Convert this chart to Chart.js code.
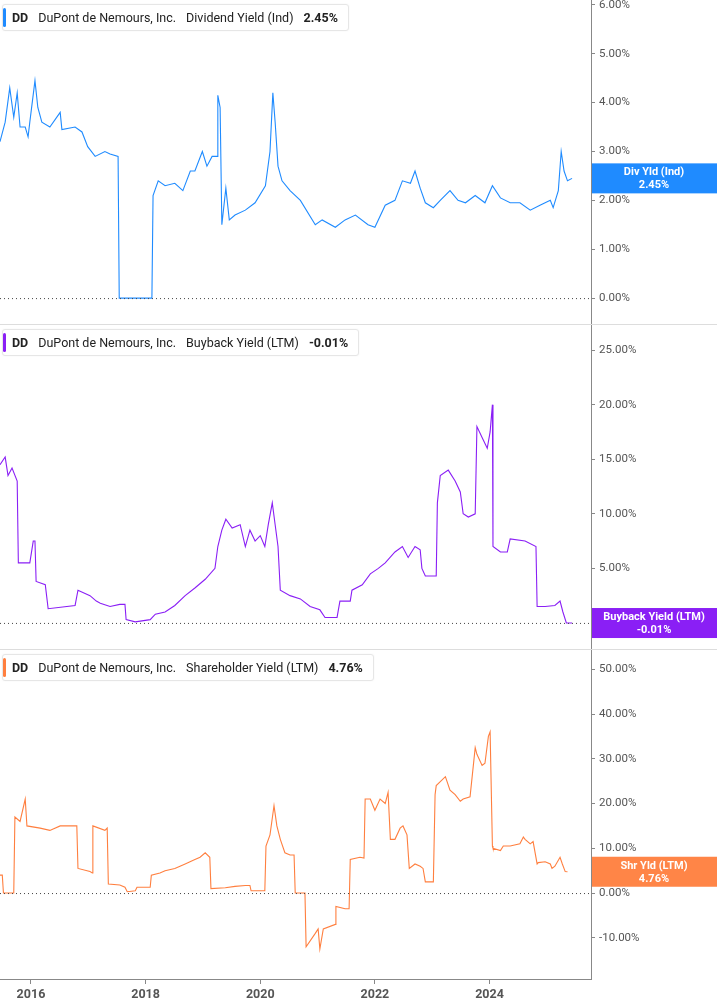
<!DOCTYPE html>
<html><head><meta charset="utf-8">
<script src="https://cdn.jsdelivr.net/npm/chart.js@4/dist/chart.umd.min.js"></script>
<style>
body{margin:0;background:#fff;font-family:Roboto,"Liberation Sans",sans-serif;}
.p{position:absolute;left:0;width:717px;}
.leg{position:absolute;left:2px;top:4px;background:#fff;border:1px solid #e6e6e6;border-radius:3px;font-size:12.5px;color:#222;padding:5px 10px 5px 9px;white-space:nowrap;box-shadow:0 0 2px rgba(0,0,0,0.05);}
.leg b{font-weight:700;margin-right:10px}
.leg span{margin-right:10px}
.leg .bar{position:absolute;left:0;top:3px;bottom:3px;width:3px;border-radius:2px}
.sep{position:absolute;left:0;width:717px;height:1px;background:#ddd}
</style></head><body>
<div class="p" style="top:0;height:324px"><canvas id="c1"></canvas></div>
<div class="p" style="top:325px;height:324px"><canvas id="c2"></canvas></div>
<div class="p" style="top:650px;height:355px"><canvas id="c3"></canvas></div>
<div class="sep" style="top:324px"></div><div class="sep" style="top:649px"></div>
<div class="leg" style="top:4px"><div class="bar" style="background:#1f8bff"></div><b>DD</b><span>DuPont de Nemours, Inc.</span><span>Dividend Yield (Ind)</span><b style="margin-right:0">2.45%</b></div>
<div class="leg" style="top:329px"><div class="bar" style="background:#8a1ff5"></div><b>DD</b><span>DuPont de Nemours, Inc.</span><span>Buyback Yield (LTM)</span><b style="margin-right:0">-0.01%</b></div>
<div class="leg" style="top:654px"><div class="bar" style="background:#ff7f3f"></div><b>DD</b><span>DuPont de Nemours, Inc.</span><span>Shareholder Yield (LTM)</span><b style="margin-right:0">4.76%</b></div>
<script>
const xTicks=[2016,2018,2020,2022,2024];
const divDates=[2015.46,2015.55,2015.63,2015.70,2015.76,2015.81,2015.90,2015.95,2015.98,2016.07,2016.12,2016.19,2016.33,2016.51,2016.54,2016.77,2016.89,2016.99,2017.12,2017.29,2017.38,2017.52,2017.54,2018.11,2018.13,2018.22,2018.34,2018.51,2018.65,2018.78,2018.86,2018.99,2019.07,2019.16,2019.25,2019.26,2019.30,2019.33,2019.40,2019.46,2019.56,2019.74,2019.91,2020.09,2020.17,2020.22,2020.26,2020.31,2020.38,2020.52,2020.70,2020.96,2021.08,2021.31,2021.48,2021.66,2021.88,2022.00,2022.18,2022.35,2022.48,2022.62,2022.70,2022.79,2022.88,2023.02,2023.14,2023.31,2023.45,2023.58,2023.75,2023.92,2024.05,2024.19,2024.36,2024.53,2024.71,2024.88,2025.06,2025.11,2025.20,2025.25,2025.30,2025.36,2025.44];
const divValues=[3.2,3.6,4.3,3.7,4.2,3.5,3.5,3.3,3.6,4.45,3.9,3.6,3.5,3.8,3.45,3.5,3.4,3.1,2.9,3.0,2.95,2.9,0,0,2.1,2.4,2.3,2.35,2.2,2.6,2.6,3.0,2.7,2.9,2.9,4.15,3.9,1.5,2.25,1.6,1.7,1.8,1.95,2.3,3.0,4.2,3.6,2.7,2.4,2.2,2.0,1.5,1.6,1.45,1.6,1.7,1.5,1.45,1.9,2.0,2.4,2.35,2.6,2.25,1.95,1.85,2.0,2.2,2.0,1.95,2.1,1.95,2.3,2.05,1.95,1.95,1.8,1.9,2.0,1.85,2.2,3.0,2.6,2.4,2.45];
const bbDates=[2015.46,2015.55,2015.60,2015.67,2015.76,2015.78,2015.98,2016.04,2016.07,2016.09,2016.25,2016.30,2016.77,2016.82,2017.03,2017.14,2017.21,2017.38,2017.55,2017.64,2017.66,2017.82,2018.08,2018.17,2018.34,2018.51,2018.69,2018.86,2019.04,2019.21,2019.26,2019.33,2019.40,2019.51,2019.65,2019.74,2019.82,2019.91,2020.00,2020.08,2020.14,2020.21,2020.26,2020.31,2020.35,2020.52,2020.70,2020.87,2021.04,2021.13,2021.34,2021.39,2021.57,2021.60,2021.78,2021.92,2022.06,2022.18,2022.35,2022.48,2022.58,2022.70,2022.79,2022.82,2022.88,2023.07,2023.09,2023.14,2023.28,2023.40,2023.49,2023.54,2023.63,2023.75,2023.78,2023.87,2023.96,2024.01,2024.05,2024.06,2024.19,2024.31,2024.36,2024.62,2024.81,2024.83,2024.97,2025.14,2025.23,2025.28,2025.34,2025.44];
const bbValues=[14.5,15.2,13.5,14.2,13.0,5.5,5.5,7.5,7.5,3.8,3.5,1.3,1.6,3.0,2.5,2.0,1.8,1.5,1.7,1.7,0.3,0.1,0.3,0.8,1.0,1.6,2.5,3.2,4.0,5.0,7.0,8.5,9.5,8.7,9.0,7.0,8.5,7.5,8.0,7.0,9.0,11.0,9.0,7.0,3.0,2.5,2.2,1.5,1.2,0.5,0.5,2.0,2.0,3.0,3.5,4.5,5.0,5.5,6.5,7.0,6.0,7.0,6.7,5.0,4.3,4.3,11.0,13.5,14.0,13.0,12.0,10.0,9.7,10.0,18.0,17.0,16.0,17.5,20.0,7.0,6.5,6.5,7.7,7.5,7.0,1.5,1.5,1.6,2.0,1.0,0.0,-0.01];
const shDates=[2015.46,2015.50,2015.52,2015.70,2015.72,2015.81,2015.90,2015.93,2016.16,2016.33,2016.51,2016.80,2016.82,2017.03,2017.07,2017.08,2017.29,2017.33,2017.35,2017.55,2017.64,2017.68,2017.82,2017.85,2018.08,2018.10,2018.25,2018.34,2018.51,2018.60,2018.69,2018.86,2018.95,2019.04,2019.12,2019.14,2019.39,2019.56,2019.74,2019.82,2019.84,2020.08,2020.10,2020.17,2020.24,2020.29,2020.35,2020.43,2020.52,2020.59,2020.61,2020.78,2020.80,2020.96,2021.01,2021.04,2021.10,2021.31,2021.32,2021.48,2021.55,2021.57,2021.74,2021.81,2021.83,2021.92,2022.00,2022.09,2022.18,2022.23,2022.27,2022.35,2022.44,2022.49,2022.56,2022.60,2022.70,2022.79,2022.84,2022.88,2023.02,2023.05,2023.07,2023.23,2023.31,2023.40,2023.49,2023.54,2023.66,2023.75,2023.78,2023.87,2023.92,2023.98,2024.01,2024.05,2024.06,2024.19,2024.24,2024.36,2024.53,2024.59,2024.62,2024.71,2024.76,2024.83,2024.85,2024.97,2025.06,2025.09,2025.14,2025.23,2025.27,2025.32,2025.36,2025.44];
const shValues=[4,4,0,0,17,16,21,15,14.5,14.0,15.0,15,5.5,4.8,4.5,15,14,14.5,2.0,1.8,1.3,0.3,0.5,1.3,1.3,4,4.5,5.0,5.5,6.0,6.5,7.5,8.0,9.0,8,1.0,1.2,1.5,1.7,1.7,0.5,0.5,10.5,13,19.5,15,12,9,8.5,8.5,0,0,-12,-9,-8,-12.5,-8,-7,-3,-3.5,-3.5,7.5,8,7.8,21,21,18.5,21,20,22.5,12,12,14.5,15,13,5.5,6.5,6.0,5.5,2.5,2.5,22,24,26,23,22,20.5,21,21.5,32.5,31,28.5,29,35,36,10.5,10,9.5,10.5,10.5,11,12.5,12,11,11.5,6.5,6.8,7,6.5,5.5,6,8,6.5,4.8,4.76];
const badges=[{lbl:'Div Yld (Ind)',val:'2.45%',col:'#1f8bff'},{lbl:'Buyback Yield (LTM)',val:'-0.01%',col:'#8a1ff5'},{lbl:'Shr Yld (LTM)',val:'4.76%',col:'#ff8547'}];
const XMIN=2015.46,XMAX=2025.77;
function pts(d,v){return d.map((x,i)=>({x:x,y:v[i]}));}
const extra={id:'extra',
 afterDatasetsDraw(ch,a,o){const c=ch.ctx,ys=ch.scales.y,ca=ch.chartArea;
  const y0=ys.getPixelForValue(0);c.save();c.strokeStyle='#444';c.lineWidth=1;c.setLineDash([1,3]);
  c.beginPath();c.moveTo(ca.left,y0+0.5);c.lineTo(ca.right,y0+0.5);c.stroke();c.restore();
 },
 afterDraw(ch,a,o){const c=ch.ctx,ys=ch.scales.y,ca=ch.chartArea;const b=o.badge;
  const yy=ys.getPixelForValue(o.last);c.save();c.fillStyle=b.col;c.fillRect(ca.right+1,yy-15,717-ca.right,30);
  c.fillStyle='#fff';c.font='bold 11px Roboto';c.textAlign='center';c.textBaseline='middle';
  const cx=(ca.right+717)/2;c.fillText(b.lbl,cx,yy-6);c.fillText(b.val,cx,yy+7);c.restore();}
};
function make(id,d,v,col,ymin,ymax,step,tmin,tmax,showX,bi){
 new Chart(document.getElementById(id),{type:'line',
  data:{datasets:[{data:pts(d,v),borderColor:col,borderWidth:1.1,pointRadius:0,tension:0}]},
  options:{responsive:true,maintainAspectRatio:false,animation:false,
   layout:{padding:0},
   plugins:{legend:{display:false},tooltip:{enabled:false},extra:{badge:badges[bi],last:v[v.length-1]}},
   scales:{
    x:{type:'linear',min:XMIN,max:XMAX,display:showX,
     afterBuildTicks(s){s.ticks=xTicks.map(t=>({value:t}));},
     afterFit(s){s.paddingLeft=0;s.paddingRight=0;},
     grid:{drawOnChartArea:false,tickLength:5,color:'#888'},border:{color:'#888'},
     ticks:{color:'#555',font:{size:12.5,weight:'bold',family:'Roboto'},maxRotation:0,callback:v=>String(v)}},
    y:{position:'right',min:ymin,max:ymax,
     afterBuildTicks(s){const t=[];for(let k=tmin;k<=tmax+1e-9;k+=step)t.push({value:k});s.ticks=t;},
     afterFit(s){s.width=126;s.paddingTop=0;s.paddingBottom=0;},
     grid:{drawOnChartArea:false,tickLength:4,color:'#888'},border:{color:'#888'},
     ticks:{color:'#555',padding:4,font:{size:11.5,family:'Roboto'},callback:x=>x.toFixed(2)+'%'}}
   }},plugins:[extra]});
}
make('c1',divDates,divValues,'#1f8bff',-0.53,6.1,1,0,6,false,0);
make('c2',bbDates,bbValues,'#8a1ff5',-2.39,27.3,5,0,25,false,1);
make('c3',shDates,shValues,'#ff7f3f',-19.2,54.3,10,-10,50,true,2);
</script></body></html>
